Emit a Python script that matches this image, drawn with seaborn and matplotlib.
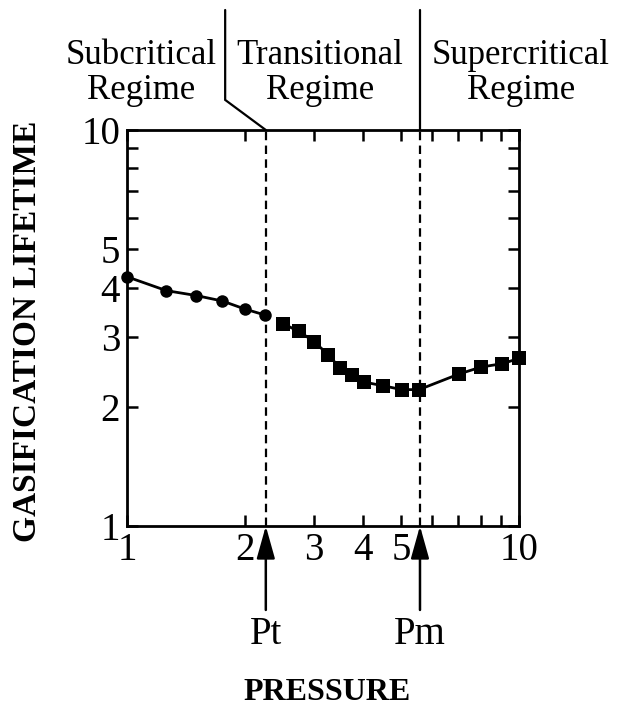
import matplotlib
matplotlib.use("Agg")
import matplotlib.pyplot as plt
import seaborn as sns
import pandas as pd

# ---- data ----
sub_pressure = [1.0, 1.26, 1.50, 1.75, 2.0, 2.25]
sub_lifetime = [4.26, 3.93, 3.82, 3.70, 3.53, 3.41]
trans_pressure = [2.50, 2.75, 3.0, 3.26, 3.50, 3.76, 4.02, 4.50, 5.03, 5.56, 7.03, 8.0, 9.07, 10.0]
trans_lifetime = [3.24, 3.10, 2.92, 2.71, 2.50, 2.41, 2.31, 2.26, 2.21, 2.21, 2.42, 2.52, 2.57, 2.65]
pt_value = 2.26
pm_value = 5.59
x_tick_values = [1, 2, 3, 4, 5, 6, 7, 8, 9, 10]
x_tick_labels = ["1", "2", "3", "4", "5", "", "", "", "", "10"]
y_tick_values = [1, 2, 3, 4, 5, 6, 7, 8, 9, 10]
y_tick_labels = ["1", "2", "3", "4", "5", "", "", "", "", "10"]
regime_names = ["Subcritical\nRegime", "Transitional\nRegime", "Supercritical\nRegime"]

sns.set_style("ticks")
plt.rcParams["font.family"] = ["Liberation Serif", "DejaVu Serif"]
plt.rcParams["text.color"] = "black"
plt.rcParams["axes.labelcolor"] = "black"
plt.rcParams["xtick.color"] = "black"
plt.rcParams["ytick.color"] = "black"

W, H = 620, 711
fig = plt.figure(figsize=(W / 100, H / 100), dpi=100)
ax = fig.add_axes([127 / W, 1 - 526 / H, (519 - 127) / W, (526 - 130) / H])

sub_df = pd.DataFrame({"p": sub_pressure, "t": sub_lifetime})
trans_df = pd.DataFrame({"p": trans_pressure, "t": trans_lifetime})

sns.lineplot(data=sub_df, x="p", y="t", ax=ax, color="black", lw=2.0,
             marker="o", markersize=9, markeredgewidth=0, clip_on=False, sort=False)
sns.lineplot(data=trans_df, x="p", y="t", ax=ax, color="black", lw=2.0,
             marker="s", markersize=10, markeredgewidth=0, clip_on=False, sort=False)

ax.set_xscale("log")
ax.set_yscale("log")
ax.set_xlim(1, 10)
ax.set_ylim(1, 10)
ax.minorticks_off()
ax.set_xticks(x_tick_values)
ax.set_xticklabels(x_tick_labels)
ax.set_yticks(y_tick_values)
ax.set_yticklabels(y_tick_labels)
ax.tick_params(which="both", direction="in", top=True, right=True, length=8, width=1.8,
               labelsize=28, pad=4, color="black", labelcolor="black")
ax.tick_params(axis="y", pad=5)
for s in ax.spines.values():
    s.set_visible(True)
    s.set_linewidth(2.0)
    s.set_color("black")
ax.set_xlabel("")
ax.set_ylabel("")
ax.grid(False)

# dashed regime boundaries
for v in (pt_value, pm_value):
    ax.axvline(v, color="black", lw=1.6, ls=(0, (3.8, 2.4)))

# lines connecting boundaries to regime labels (above axes)
tr = ax.get_xaxis_transform()
ax.plot([1.78, 1.78, pt_value], [1.303, 1.076, 1.0], color="black", lw=1.6,
        transform=tr, clip_on=False, solid_joinstyle="miter")
ax.plot([pm_value, pm_value], [1.303, 1.0], color="black", lw=1.6,
        transform=tr, clip_on=False)

# arrows below axes
for v, lab in ((pt_value, "Pt"), (pm_value, "Pm")):
    ax.annotate("", xy=(v, 0.0), xycoords=tr, xytext=(v, -0.212), textcoords=tr,
                arrowprops=dict(arrowstyle="-|>,head_length=1.0,head_width=0.28",
                                color="black", lw=1.8, mutation_scale=20,
                                shrinkA=0, shrinkB=0))
    ax.text(v, -0.297, lab, transform=tr, ha="center", va="baseline", fontsize=28,
            color="black")

# regime labels
regime_x = [141, 320, 521]
for name, xc in zip(regime_names, regime_x):
    fig.text(xc / W, 1 - 73 / H, name, ha="center", va="center", fontsize=25,
             linespacing=1.05, multialignment="center", color="black")

fig.text(28 / W, 1 - 331 / H, "GASIFICATION LIFETIME", rotation=90, ha="center",
         va="center", fontsize=24, fontweight="bold", color="black")
fig.text(327 / W, 1 - 693 / H, "PRESSURE", ha="center", va="center", fontsize=23,
         fontweight="bold", color="black")

fig.savefig("out.png", dpi=100, facecolor="white")
